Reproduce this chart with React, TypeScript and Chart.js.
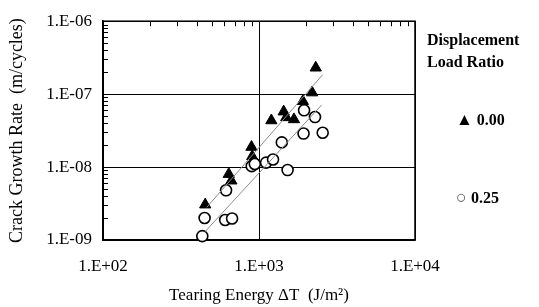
import React, { useEffect, useRef } from "react";
import { Chart, registerables } from "chart.js";

Chart.register(...registerables);

// ---- data ----
const xTickValues = [100, 1000, 10000];
const yTickValues = [1e-9, 1e-8, 1e-7, 1e-6];

const triEnergy = [452, 640, 665, 895, 905, 1200, 1440, 1495, 1675, 1910, 2190, 2310];
const triRate = [3.05e-9, 8.0e-9, 6.5e-9, 1.88e-8, 1.4e-8, 4.35e-8, 5.75e-8, 4.8e-8, 4.5e-8, 8.0e-8, 1.05e-7, 2.3e-7];

const circEnergy = [433, 448, 615, 607, 672, 898, 940, 1110, 1230, 1400, 1525, 1930, 1945, 2285, 2560];
const circRate = [1.13e-9, 2.0e-9, 4.8e-9, 1.88e-9, 1.97e-9, 1.03e-8, 1.1e-8, 1.15e-8, 1.27e-8, 2.18e-8, 9.1e-9, 2.88e-8, 6.0e-8, 4.85e-8, 2.95e-8];

const triFitEnergy = [462, 2560];
const triFitRate = [2.8e-9, 1.85e-7];
const circFitEnergy = [451, 2520];
const circFitRate = [1.3e-9, 7.1e-8];

const legendTitle = ["Displacement", "Load Ratio"];
const seriesLabels = ["0.00", "0.25"];
const xTitle = "Tearing Energy \u0394T  (J/m\u00B2)";
const yTitle = "Crack Growth Rate  (m/cycles)";

const FONT = "'Liberation Serif', 'Times New Roman', serif";

const zip = (xs: number[], ys: number[]) => xs.map((x, i) => ({ x, y: ys[i] }));

const fmtExp = (v: number) => {
  const e = Math.round(Math.log10(v));
  const s = e < 0 ? "-" : "+";
  return `1.E${s}${String(Math.abs(e)).padStart(2, "0")}`;
};

const framePlugin = {
  id: "frameMinor",
  beforeDatasetsDraw(chart: any) {
    const { ctx, chartArea } = chart;
    const xs = chart.scales.x;
    const ys = chart.scales.y;
    ctx.save();
    ctx.strokeStyle = "#000";
    ctx.lineWidth = 1;
    ctx.beginPath();
    for (let d = 0; d < xTickValues.length - 1; d++) {
      for (let k = 2; k <= 9; k++) {
        const px = Math.round(xs.getPixelForValue(k * xTickValues[d])) + 0.5;
        ctx.moveTo(px, chartArea.top);
        ctx.lineTo(px, chartArea.top + 5);
      }
    }
    for (let d = 0; d < yTickValues.length - 1; d++) {
      for (let k = 2; k <= 9; k++) {
        const py = Math.round(ys.getPixelForValue(k * yTickValues[d])) + 0.5;
        ctx.moveTo(chartArea.left, py);
        ctx.lineTo(chartArea.left + 5, py);
      }
    }
    ctx.stroke();
    ctx.lineWidth = 1.5;
    ctx.strokeRect(chartArea.left, chartArea.top, chartArea.right - chartArea.left, chartArea.bottom - chartArea.top);
    ctx.restore();
  },
};

export default function App() {
  const ref = useRef<HTMLCanvasElement | null>(null);

  useEffect(() => {
    if (!ref.current) return;
    const chart = new Chart(ref.current, {
      type: "scatter",
      data: {
        datasets: [
          {
            type: "line",
            label: "fit0",
            data: zip(triFitEnergy, triFitRate),
            borderColor: "#8a8a8a",
            borderWidth: 1,
            pointRadius: 0,
            showLine: true,
            fill: false,
            order: -1,
            clip: false,
          } as any,
          {
            type: "line",
            label: "fit1",
            data: zip(circFitEnergy, circFitRate),
            borderColor: "#8a8a8a",
            borderWidth: 1,
            pointRadius: 0,
            showLine: true,
            fill: false,
            order: -1,
            clip: false,
          } as any,
          {
            label: seriesLabels[0],
            data: zip(triEnergy, triRate),
            pointStyle: "triangle",
            pointRadius: 6.5,
            backgroundColor: "#000",
            borderColor: "#000",
            borderWidth: 1,
            order: 2,
            clip: false,
          } as any,
          {
            label: seriesLabels[1],
            data: zip(circEnergy, circRate),
            pointStyle: "circle",
            pointRadius: 5.5,
            backgroundColor: "#fff",
            borderColor: "#000",
            borderWidth: 1.6,
            order: 1,
            clip: false,
          } as any,
        ],
      },
      options: {
        animation: false,
        responsive: true,
        maintainAspectRatio: false,
        events: [],
        layout: { padding: { top: 21, right: 124, left: 0, bottom: 0 } },
        plugins: { legend: { display: false }, tooltip: { enabled: false } },
        scales: {
          x: {
            type: "logarithmic",
            position: "bottom",
            min: 100,
            max: 10000,
            afterBuildTicks: (s: any) => {
              s.ticks = xTickValues.map((v) => ({ value: v, major: true }));
            },
            afterFit: (s: any) => {
              s.height = 67;
            },
            ticks: {
              autoSkip: false,
              maxRotation: 0,
              padding: 16,
              color: "#000",
              font: { family: FONT, size: 17 },
              callback: (v: any) => fmtExp(Number(v)),
            },
            grid: { color: "#000", lineWidth: 1, drawTicks: false },
            border: { display: true, color: "#000", width: 1.5 },
            title: {
              display: true,
              text: xTitle,
              color: "#000",
              font: { family: FONT, size: 17 },
              padding: { top: 0, bottom: 1 },
            },
          },
          y: {
            type: "logarithmic",
            position: "left",
            min: 1e-9,
            max: 1e-6,
            afterBuildTicks: (s: any) => {
              s.ticks = yTickValues.map((v) => ({ value: v, major: true }));
            },
            afterFit: (s: any) => {
              s.width = 103;
            },
            ticks: {
              autoSkip: false,
              padding: 11,
              color: "#000",
              font: { family: FONT, size: 17 },
              callback: (v: any) => fmtExp(Number(v)),
            },
            grid: { color: "#000", lineWidth: 1, drawTicks: false },
            border: { display: true, color: "#000", width: 1.5 },
            title: {
              display: true,
              text: yTitle,
              color: "#000",
              font: { family: FONT, size: 18 },
              padding: { top: 6, bottom: 0 },
            },
          },
        },
      },
      plugins: [framePlugin],
    });
    return () => chart.destroy();
  }, []);

  const legendText: React.CSSProperties = {
    position: "absolute",
    fontFamily: FONT,
    fontWeight: "bold",
    fontSize: 16,
    color: "#000",
    whiteSpace: "nowrap",
    lineHeight: "20px",
  };

  return (
    <div style={{ position: "absolute", left: 0, top: 0, width: 539, height: 307, background: "#fff" }}>
      <canvas ref={ref} />
      <div style={{ ...legendText, left: 427, top: 30 }}>{legendTitle[0]}</div>
      <div style={{ ...legendText, left: 427, top: 52 }}>{legendTitle[1]}</div>
      <div style={{ ...legendText, left: 456, top: 110 }}>
        <span style={{ fontSize: 17 }}>{"\u25B2"}</span> {seriesLabels[0]}
      </div>
      <div style={{ ...legendText, left: 456, top: 187 }}>
        <span style={{ fontSize: 18, fontWeight: "normal", color: "#555" }}>{"\u25CB"}</span> {seriesLabels[1]}
      </div>
    </div>
  );
}
